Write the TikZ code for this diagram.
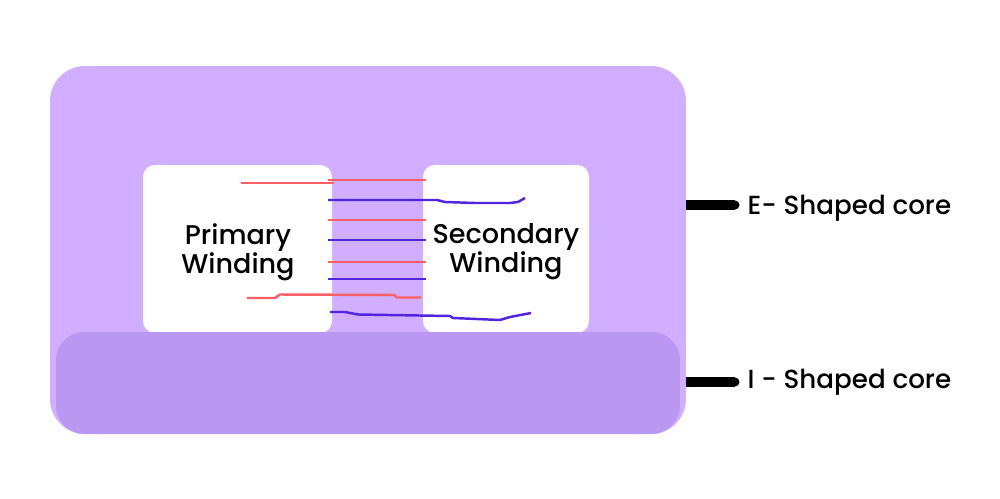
\documentclass[tikz,border=0pt]{standalone}
\usepackage{fontspec}
\setmainfont{Poppins Medium}
\usepackage{xcolor}
\usetikzlibrary{positioning,calc}
\definecolor{coreLight}{HTML}{D1AEFF}
\definecolor{coreDark}{HTML}{BA98F2}
\definecolor{wireRed}{HTML}{FF5F65}
\definecolor{wireBlue}{HTML}{5224E0}
\tikzset{
  corebox/.style={rectangle, inner sep=0pt, outer sep=0pt},
  wirered/.style={wireRed, line width=0.7pt, line join=round},
  wireblue/.style={wireBlue, line width=0.7pt, line join=round},
  leader/.style={black, line width=2.6pt},
  wlabel/.style={font=\fontsize{7.7}{8.25}\selectfont, align=center, inner sep=0pt},
  clabel/.style={font=\fontsize{7.45}{8}\selectfont, anchor=west, inner sep=0pt}
}
\begin{document}
\begin{tikzpicture}[x=0.1mm, y=-0.1mm]
\useasboundingbox (0,0) rectangle (1000,499);
% ---- core: E piece, two windows, I piece ----
\node[corebox, fill=coreLight, rounded corners=10pt, minimum width=63.6mm, minimum height=36.8mm] (ecore) at (368,250) {};
\node[corebox, fill=white, rounded corners=3.4pt, minimum width=18.9mm, minimum height=16.8mm] (leftwin) at (237.5,249) {};
\node[corebox, fill=white, rounded corners=3.4pt, minimum width=16.6mm, minimum height=16.8mm] (rightwin) at (506,249) {};
\node[corebox, fill=coreDark, rounded corners=8pt, minimum width=62.4mm, minimum height=10.2mm] (icore) at (368,383) {};
% ---- primary turns ----
\draw[wirered] (241,183) -- (334,183);
\foreach \y in {180,220,262}{\draw[wirered] (328,\y) -- (426,\y);}
\draw[wirered] (247,298) -- (275,298) -- (280,294.5) -- (394,295) -- (397,297.5) -- (421,297.5);
% ---- secondary turns ----
\draw[wireblue] (328,200) -- (437,200) -- (445,202) -- (475,203) -- (510,203) -- (518,202) -- (525,198);
\foreach \y in {240,279}{\draw[wireblue] (328,\y) -- (426,\y);}
\draw[wireblue] (330,312) -- (345,312) -- (358,314.5) -- (450,316) -- (453,318) -- (500,320) -- (510,317) -- (531,313);
% ---- labels ----
\node[wlabel] (primary) at (238,252) {Primary\\Winding};
\node[wlabel] (secondary) at (506,252) {Secondary\\Winding};
\node[clabel] (elabel) at (747,208) {E- Shaped core};
\node[clabel] (ilabel) at (747,382) {I - Shaped core};
% ---- leaders, round at the free end only ----
\coordinate (eend) at (735,205);
\coordinate (iend) at (735,382);
\draw[leader] (ecore.east |- eend) -- (eend);
\fill (eend) circle (4.5);
\draw[leader] (ecore.east |- iend) -- (iend);
\fill (iend) circle (4.5);
\end{tikzpicture}
\end{document}
